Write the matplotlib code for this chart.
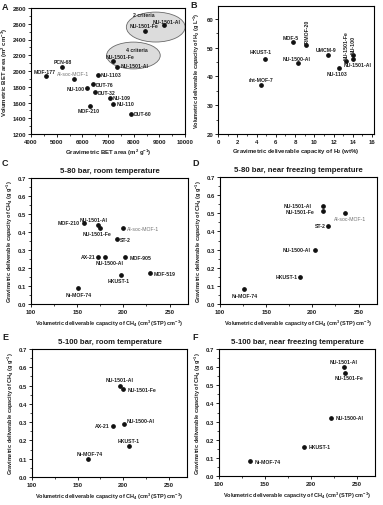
import matplotlib
matplotlib.use("Agg")
import matplotlib.pyplot as plt
from matplotlib.patches import Ellipse
from matplotlib.ticker import MultipleLocator, AutoMinorLocator

plt.rcParams['font.family'] = ['Liberation Sans', 'DejaVu Sans']
plt.rcParams['mathtext.fontset'] = 'custom'
plt.rcParams['mathtext.rm'] = 'Liberation Sans:bold'
plt.rcParams['mathtext.it'] = 'Liberation Sans:bold'
plt.rcParams['mathtext.bf'] = 'Liberation Sans:bold'

# ---------------- data ----------------
# Panel A: BET areas
a_names = ["MOF-177", "PCN-68", "Al-soc-MOF-1", "NU-1103", "DUT-76", "NU-100",
           "DUT-32", "MOF-210", "NU-109", "NU-110", "DUT-60",
           "NU-1501-Fe", "NU-1501-Al", "NU-1501-Fe ", "NU-1501-Al "]
a_grav = [4580, 5190, 5660, 6600, 6400, 6200, 6490, 6300, 7070, 7200, 7900,
          7200, 7370, 8460, 9190]
a_vol = [1935, 2055, 1900, 1950, 1830, 1780, 1730, 1560, 1660, 1585, 1460,
         2130, 2057, 2507, 2578]

# Panel B: H2 deliverable capacities
b_names = ["HKUST-1", "rht-MOF-7", "MOF-5", "NU-1500-Al", "IRMOF-20", "UMCM-9",
           "NU-1103", "NU-1501-Fe", "NU-100", "NU-1501-Al"]
b_grav = [4.9, 4.5, 7.8, 8.3, 9.1, 11.4, 12.6, 13.3, 14.0, 14.0]
b_vol = [45.9, 36.9, 51.9, 44.6, 51.0, 47.4, 43.0, 45.4, 47.5, 46.1]

# Panel C: CH4 5-80 bar, room temperature
c_names = ["MOF-210", "NU-1501-Al", "NU-1501-Fe", "Al-soc-MOF-1", "ST-2", "AX-21",
           "NU-1500-Al", "MOF-905", "HKUST-1", "MOF-519", "Ni-MOF-74"]
c_vol = [157, 173, 175, 200, 193, 173, 180, 202, 197, 229, 151]
c_grav = [0.45, 0.44, 0.42, 0.42, 0.36, 0.26, 0.26, 0.26, 0.16, 0.17, 0.09]

# Panel D: CH4 5-80 bar, near freezing
d_names = ["NU-1501-Al", "NU-1501-Fe", "Al-soc-MOF-1", "ST-2", "NU-1500-Al",
           "HKUST-1", "Ni-MOF-74"]
d_vol = [211, 211, 235, 217, 203, 187, 126]
d_grav = [0.54, 0.51, 0.50, 0.43, 0.30, 0.15, 0.08]

# Panel E: CH4 5-100 bar, room temperature
e_names = ["NU-1501-Al", "NU-1501-Fe", "NU-1500-Al", "AX-21", "HKUST-1", "Ni-MOF-74"]
e_vol = [197, 200, 201, 189, 206, 161]
e_grav = [0.50, 0.48, 0.29, 0.28, 0.17, 0.10]

# Panel F: CH4 5-100 bar, near freezing
f_names = ["NU-1501-Al", "NU-1501-Fe", "NU-1500-Al", "HKUST-1", "Ni-MOF-74"]
f_vol = [236, 237, 222, 193, 134]
f_grav = [0.60, 0.57, 0.32, 0.16, 0.08]

# ---------------- label placement (offsets in pixels: dx, dy, ha, rotation) ----------------
a_lab = {"MOF-177": (-1.5, 5, 'center', 0), "PCN-68": (1, 5, 'center', 0),
         "Al-soc-MOF-1": (0, 5, 'center', 0), "NU-1103": (3, 0, 'left', 0),
         "DUT-76": (3, 0, 'left', 0), "NU-100": (-3, 0, 'right', 0),
         "DUT-32": (2.5, 0, 'left', 0), "MOF-210": (-1, -5, 'center', 0),
         "NU-109": (3, 0, 'left', 0), "NU-110": (3, 0, 'left', 0),
         "DUT-60": (3, 0, 'left', 0), "NU-1501-Fe": (6.5, 4.7, 'center', 0),
         "NU-1501-Al": (3.5, 1.5, 'left', 0), "NU-1501-Fe ": (-1.3, 5.7, 'center', 0),
         "NU-1501-Al ": (2.7, 4, 'center', 0)}
b_lab = {"HKUST-1": (-4.5, 7.5, 'center', 0), "rht-MOF-7": (0, 5.3, 'center', 0),
         "MOF-5": (-2.7, 5, 'center', 0), "NU-1500-Al": (-1, 5, 'center', 0),
         "IRMOF-20": (1.3, 2, 'center', 90), "UMCM-9": (-1.3, 5.7, 'center', 0),
         "NU-1103": (-2, -6, 'center', 0), "NU-1501-Fe": (0.5, 2, 'center', 90),
         "NU-100": (0.3, 2, 'center', 90), "NU-1501-Al": (5.3, -5.7, 'center', 0)}
c_lab = {"MOF-210": (-4, 0, 'right', 0), "NU-1501-Al": (-5, 5, 'center', 0),
         "NU-1501-Fe": (-3.3, -4.7, 'center', 0), "Al-soc-MOF-1": (3.3, 0, 'left', 0),
         "ST-2": (3, 0, 'left', 0), "AX-21": (-2.7, 0.5, 'right', 0),
         "NU-1500-Al": (4.3, -5, 'center', 0), "MOF-905": (4, 0, 'left', 0),
         "HKUST-1": (-2, -5.7, 'center', 0), "MOF-519": (3.3, 0, 'left', 0),
         "Ni-MOF-74": (1, -6.3, 'center', 0)}
d_lab = {"NU-1501-Al": (-10.5, 1, 'right', 0), "NU-1501-Fe": (-8.5, 0, 'right', 0),
         "Al-soc-MOF-1": (5.7, -5.7, 'center', 0), "ST-2": (-2.7, 0, 'right', 0),
         "NU-1500-Al": (-4, 0, 'right', 0), "HKUST-1": (-2.7, 0, 'right', 0),
         "Ni-MOF-74": (0.7, -6, 'center', 0)}
e_lab = {"NU-1501-Al": (-1.3, 6, 'center', 0), "NU-1501-Fe": (4.3, 0, 'left', 0),
         "NU-1500-Al": (2.3, 3.7, 'left', 0), "AX-21": (-3.3, 0, 'right', 0),
         "HKUST-1": (0, 5.7, 'center', 0), "Ni-MOF-74": (2.3, 5.7, 'center', 0)}
f_lab = {"NU-1501-Al": (0, 5.3, 'center', 0), "NU-1501-Fe": (4.3, -5.3, 'center', 0),
         "NU-1500-Al": (5, 0, 'left', 0), "HKUST-1": (4, 0, 'left', 0),
         "Ni-MOF-74": (4.3, 0, 'left', 0)}

W, H = 383, 506
fig = plt.figure(figsize=(W / 100, H / 100), dpi=100)
TXT = '#1e1e1e'


def ax_px(left, right, top, bottom):
    return fig.add_axes([left / W, 1 - bottom / H, (right - left) / W, (bottom - top) / H])


def style(ax):
    for s in ax.spines.values():
        s.set_linewidth(0.8)
    ax.tick_params(which='major', direction='out', length=2.2, width=0.6, pad=1.2,
                   labelsize=4.3, colors='black', labelcolor=TXT)
    ax.tick_params(which='minor', direction='out', length=1.2, width=0.5)
    ax.tick_params(top=False, right=False, which='both')
    for t in ax.get_xticklabels() + ax.get_yticklabels():
        t.set_fontweight('bold')
    ax.xaxis.set_minor_locator(AutoMinorLocator(2))
    ax.yaxis.set_minor_locator(AutoMinorLocator(2))


def points(ax, xs, ys, names, lab):
    ax.plot(xs, ys, 'o', color='#111111', ms=2.4, mec='#111111', ls='none', zorder=5)
    for x, y, n in zip(xs, ys, names):
        dx, dy, ha, rot = lab[n]
        gray = n.strip() == "Al-soc-MOF-1"
        va = 'center'
        if rot == 90:
            va = 'bottom'
        ax.annotate(n.strip(), (x, y), xytext=(dx * 0.72, dy * 0.72),
                    textcoords='offset points', ha=ha, va=va, rotation=rot,
                    fontsize=3.7, fontweight='normal' if gray else 'bold',
                    color='#707070' if gray else TXT, zorder=6)


def letter(x, y, s):
    fig.text(x / W, 1 - y / H, s, fontsize=6.5, fontweight='bold', va='center',
             ha='left', color=TXT)


ch4_x = r"Volumetric deliverable capacity of CH$_4$ (cm$^3$ (STP) cm$^{-3}$)"
ch4_y = r"Gravimetric deliverable capacity of CH$_4$ (g g$^{-1}$)"

# ----- Panel A -----
axA = ax_px(31, 185, 9, 135)
axA.add_patch(Ellipse((8860, 2558), 2290, 380, facecolor='#dcdcdc', edgecolor='#6a6a6a',
                      lw=0.6, zorder=1))
axA.add_patch(Ellipse((7990, 2197), 2090, 340, facecolor='#dcdcdc', edgecolor='#6a6a6a',
                      lw=0.6, zorder=1))
axA.text(8390, 2715, "2 criteria", fontsize=3.7, fontweight='bold', ha='center',
         va='center', color=TXT, zorder=6)
axA.text(8130, 2274, "4 criteria", fontsize=3.7, fontweight='bold', ha='center',
         va='center', color=TXT, zorder=6)
points(axA, a_grav, a_vol, a_names, a_lab)
axA.set_xlim(4000, 10000)
axA.set_ylim(1200, 2800)
axA.xaxis.set_major_locator(MultipleLocator(1000))
axA.yaxis.set_major_locator(MultipleLocator(200))
style(axA)
axA.set_xlabel(r"Gravimetric BET area (m$^2$ g$^{-1}$)", fontsize=4.3, fontweight='bold',
               labelpad=2, color=TXT)
axA.set_ylabel(r"Volumetric BET area (m$^2$ cm$^{-3}$)", fontsize=4.3, fontweight='bold',
               labelpad=2, color=TXT)
letter(2, 7, "A")

# ----- Panel B -----
axB = ax_px(218, 374, 7, 135)
points(axB, b_grav, b_vol, b_names, b_lab)
axB.set_xlim(0, 16.2)
axB.set_ylim(20, 64.4)
axB.xaxis.set_major_locator(MultipleLocator(2))
axB.yaxis.set_major_locator(MultipleLocator(10))
style(axB)
axB.set_xlabel(r"Gravimetric deliverable capacity of H$_2$ (wt%)", fontsize=4.3,
               fontweight='bold', labelpad=2, color=TXT)
axB.set_ylabel(r"Volumetric deliverable capacity of H$_2$ (g L$^{-1}$)", fontsize=4.0,
               fontweight='bold', labelpad=3, color=TXT)
letter(190, 5, "B")

# ----- Panels C-F -----
specs = [
    ((31, 188, 179, 305), c_vol, c_grav, c_names, c_lab, "5-80 bar, room temperature", (2, 164), "C"),
    ((220, 377, 178, 305), d_vol, d_grav, d_names, d_lab, "5-80 bar, near freezing temperature", (192, 164), "D"),
    ((32, 187, 350, 478), e_vol, e_grav, e_names, e_lab, "5-100 bar, room temperature", (2, 337), "E"),
    ((219, 375, 350, 477), f_vol, f_grav, f_names, f_lab, "5-100 bar, near freezing temperature", (192, 338), "F"),
]
for box, xs, ys, names, lab, title, lpos, L in specs:
    ax = ax_px(*box)
    points(ax, xs, ys, names, lab)
    ax.set_xlim(100, 270)
    ax.set_ylim(0, 0.7)
    ax.xaxis.set_major_locator(MultipleLocator(50))
    ax.yaxis.set_major_locator(MultipleLocator(0.1))
    ax.yaxis.set_major_formatter(matplotlib.ticker.FormatStrFormatter('%.1f'))
    style(ax)
    ax.set_title(title, fontsize=5.6, fontweight='bold', pad=4, color=TXT)
    ax.set_xlabel(ch4_x, fontsize=4.0, fontweight='bold', labelpad=3, color=TXT)
    ax.set_ylabel(ch4_y, fontsize=4.0, fontweight='bold', labelpad=2, color=TXT)
    letter(lpos[0], lpos[1], L)

fig.savefig("out.png", dpi=100, facecolor='white')
